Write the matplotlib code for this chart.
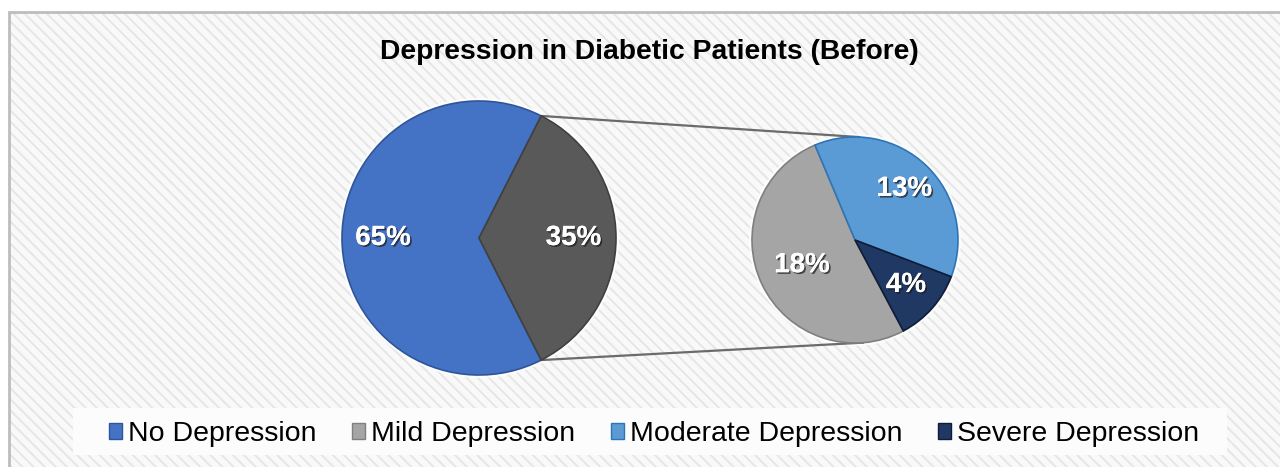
import numpy as np
import matplotlib
matplotlib.use("Agg")
import matplotlib.pyplot as plt
import matplotlib.patches as patches
import matplotlib.patheffects as pe

# --- data ---
title = "Depression in Diabetic Patients (Before)"
categories = ["No Depression", "Mild Depression", "Moderate Depression", "Severe Depression"]
main_labels = ["65%", "35%"]
main_values = [65, 35]
sub_labels = ["18%", "13%", "4%"]
sub_values = [18, 13, 4]  # mild, moderate, severe

colors = ["#4472C4", "#A5A5A5", "#5B9BD5", "#203864"]
edge_colors = ["#2F5597", "#7F7F7F", "#2E75B6", "#0F1C33"]
other_color = "#595959"

W, H = 1280, 467
plt.rcParams["font.family"] = ["Liberation Sans", "DejaVu Sans"]
plt.rcParams["hatch.linewidth"] = 1.4

fig = plt.figure(figsize=(W / 100, H / 100), dpi=100)
ax = fig.add_axes([0, 0, 1, 1])


def Y(y):
    # image row -> data y
    return H - y


# --- background frame with diagonal stripes ---
bg = patches.Rectangle((9, Y(480)), 1290, 468, facecolor="#f9f9f9",
                       edgecolor="#e6e6e6", hatch="\\\\\\", lw=0, zorder=0)
ax.add_patch(bg)
border = patches.Rectangle((9, Y(480)), 1290, 468, facecolor="none",
                           edgecolor="#bdbdbd", lw=2, zorder=1)
ax.add_patch(border)

# --- pies ---
c1 = (479, Y(238))
r1 = 137
c2 = (855, Y(240))
r2 = 103

txt_fx = [pe.withSimplePatchShadow(offset=(1.2, -1.2), shadow_rgbFace="#1a1a1a", alpha=0.7),
          pe.Normal()]

# soft white glow behind pies
for c, r in [(c1, r1), (c2, r2)]:
    ax.add_patch(patches.Circle(c, r + 3, facecolor="white", edgecolor="none",
                                alpha=0.8, zorder=2))

w1, _ = ax.pie(main_values, colors=[colors[0], other_color], startangle=63,
               counterclock=True, radius=r1, center=c1,
               wedgeprops=dict(linewidth=1.2, edgecolor="#d0d0d0"))
w1[0].set_edgecolor(edge_colors[0])
w1[1].set_edgecolor("#404040")
for w in w1:
    w.set_zorder(3)

w2, _ = ax.pie(sub_values, colors=colors[1:], startangle=-62,
               counterclock=False, radius=r2, center=c2,
               wedgeprops=dict(linewidth=1.2, edgecolor="#d0d0d0"))
for w, ec in zip(w2, edge_colors[1:]):
    w.set_edgecolor(ec)
    w.set_zorder(3)


# labels
def put_labels(wedges, labels, center, radius, fracs):
    for w, lab, f in zip(wedges, labels, fracs):
        a = np.deg2rad((w.theta1 + w.theta2) / 2)
        x = center[0] + f * radius * np.cos(a)
        y = center[1] + f * radius * np.sin(a)
        ax.text(x, y, lab, ha="center", va="center", color="white",
                fontsize=20, fontweight="bold", path_effects=txt_fx, zorder=5)


put_labels(w1, main_labels, c1, r1, [0.7, 0.69])
put_labels(w2, sub_labels, c2, r2, [0.57, 0.69, 0.66])

# connector lines
a_top = np.deg2rad(63)
a_bot = np.deg2rad(-63)
p1 = (c1[0] + r1 * np.cos(a_top), c1[1] + r1 * np.sin(a_top))
p2 = (c1[0] + r1 * np.cos(a_bot), c1[1] + r1 * np.sin(a_bot))
q1 = (c2[0] + r2 * np.cos(np.deg2rad(87)), c2[1] + r2 * np.sin(np.deg2rad(87)))
q2 = (c2[0] + r2 * np.cos(np.deg2rad(-85)), c2[1] + r2 * np.sin(np.deg2rad(-85)))
for p, q in [(p1, q1), (p2, q2)]:
    ax.plot([p[0], q[0]], [p[1], q[1]], color="#6b6b6b", lw=1.6, zorder=2.5,
            solid_capstyle="butt")

# title
ax.text(649, Y(52), title, ha="center", va="center", fontsize=20.3,
        fontweight="bold", color="black", zorder=5)

# legend with its own light band
ax.add_patch(patches.Rectangle((73, Y(455)), 1154, 47, facecolor="#fcfcfc",
                               edgecolor="none", zorder=5))
handles = [patches.Patch(facecolor=c, edgecolor=e, lw=1.0)
           for c, e in zip(colors, edge_colors)]
leg = ax.legend(handles, categories, ncol=4, loc="center",
                bbox_to_anchor=(654 / W, 1 - 434 / H), frameon=False,
                fontsize=20.5, handlelength=0.45, handleheight=0.45,
                handletextpad=0.22, columnspacing=1.25, borderpad=0.3,
                borderaxespad=0)
leg.set_zorder(6)

ax.set_xlim(0, W)
ax.set_ylim(0, H)
ax.set_aspect("auto")
ax.axis("off")

fig.savefig("out.png", dpi=100, facecolor="white")
